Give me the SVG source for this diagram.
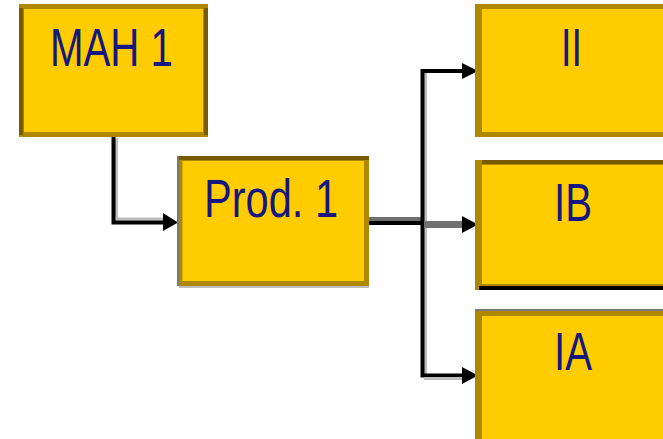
<svg xmlns="http://www.w3.org/2000/svg" width="663" height="439" viewBox="0 0 663 439">
  <style>
    .box { fill: #FFCC00; stroke: #B08800; stroke-width: 5; }
    .edge-dark { fill: #785A00; }
    .label { font-family: "Liberation Sans", Arial, sans-serif; font-size: 53px; fill: #161683; text-anchor: middle; }
    .wire { fill: none; stroke: #000; stroke-width: 4; stroke-linecap: square; }
    .shade { fill: none; stroke: #BDBDBD; stroke-width: 3; }
    .head { fill: #000; }
  </style>
  <rect width="663" height="439" fill="#FFFFFF"/>

  <g id="connectors">
    <!-- MAH 1 down and across to Prod. 1 -->
    <polyline class="shade" points="116.5,138 116.5,219 165,219"/>
    <polyline class="wire" points="113.5,138 113.5,222.5 168,222.5"/>
    <polygon class="head" points="163,213 178,222.5 163,231"/>

    <!-- Prod. 1 out to the branch point -->
    <line x1="369" y1="219" x2="422" y2="219" stroke="#6E6E6E" stroke-width="4"/>
    <line x1="369" y1="223" x2="422" y2="223" stroke="#000" stroke-width="4"/>

    <!-- trunk -->
    <line x1="425.5" y1="73" x2="425.5" y2="374" stroke="#BDBDBD" stroke-width="3"/>
    <polyline class="wire" points="470,71 422.5,71 422.5,375.5 470,375.5"/>
    <line x1="424" y1="378.5" x2="466" y2="378.5" stroke="#BDBDBD" stroke-width="3"/>

    <!-- middle branch to IB -->
    <line x1="424" y1="224.5" x2="466" y2="224.5" stroke="#707070" stroke-width="7"/>

    <!-- arrowheads on the right-hand boxes -->
    <polygon class="head" points="462,63 478,71 462,79"/>
    <polygon class="head" points="462,216 478,224.5 462,233"/>
    <polygon class="head" points="462,367 478,375.5 462,384"/>
  </g>

  <g id="node-mah1">
    <rect class="box" x="21.5" y="6.5" width="184" height="128"/>
    <rect class="edge-dark" x="19" y="8" width="4" height="127"/>
    <rect class="edge-dark" x="204" y="8" width="4" height="127"/>
    <text class="label" x="111.5" y="66" textLength="123" lengthAdjust="spacingAndGlyphs">MAH 1</text>
  </g>

  <g id="node-prod1">
    <rect class="box" x="180" y="158.5" width="186.5" height="125"/>
    <rect class="edge-dark" x="177" y="156" width="192" height="4"/>
    <rect x="177" y="156" width="2" height="130" fill="#777777"/>
    <rect x="179" y="286" width="190" height="2" fill="#BDBDBD"/>
    <text class="label" x="271" y="217" textLength="134" lengthAdjust="spacingAndGlyphs">Prod. 1</text>
  </g>

  <g id="node-ii">
    <rect class="box" x="478.5" y="6.5" width="190" height="128"/>
    <rect x="475" y="4" width="7" height="133" fill="#B08800"/>
    <text class="label" x="571.5" y="66" textLength="21" lengthAdjust="spacingAndGlyphs">II</text>
  </g>

  <g id="node-ib">
    <rect class="box" x="478.5" y="162.5" width="190" height="124"/>
    <rect class="edge-dark" x="475" y="160" width="190" height="4"/>
    <rect x="475" y="160" width="7" height="130" fill="#B08800"/>
    <rect x="479" y="286" width="184" height="4" fill="#000"/>
    <text class="label" x="573" y="221" textLength="38" lengthAdjust="spacingAndGlyphs">IB</text>
  </g>

  <g id="node-ia">
    <rect x="475" y="309" width="188" height="2" fill="#777777"/>
    <rect class="box" x="478.5" y="313.5" width="190" height="130"/>
    <rect x="475" y="311" width="7" height="128" fill="#B08800"/>
    <text class="label" x="573" y="370" textLength="38" lengthAdjust="spacingAndGlyphs">IA</text>
  </g>
</svg>
